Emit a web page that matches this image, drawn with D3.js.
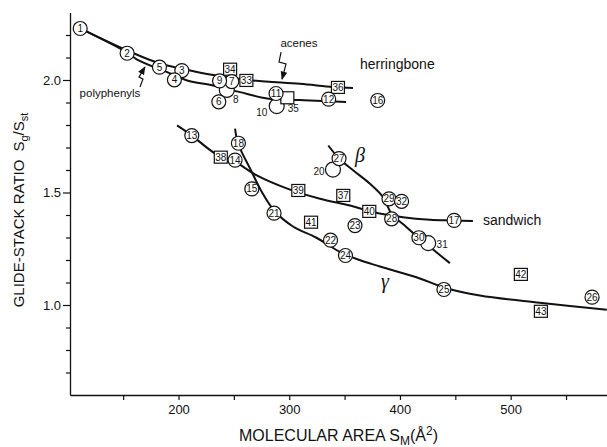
<!DOCTYPE html>
<html>
<head>
<meta charset="utf-8">
<script src="https://cdn.jsdelivr.net/npm/d3@7"></script>
<style>
  body { margin: 0; background: #fff; }
  text { font-family: "Liberation Sans", Arial, Helvetica, sans-serif; fill: #111; }
</style>
</head>
<body>
<div id="chart"></div>
<script>
// numbered circles (labelled inside)
var circleIds = ["1", "2", "3", "4", "5", "6", "7", "9", "11", "12", "13", "14", "15", "16", "17", "18",
                 "21", "22", "23", "24", "25", "26", "27", "28", "29", "30", "32"];
var circleX = [111.2, 153.6, 203.0, 196.3, 182.8, 236.4, 248.1, 237.1, 288.1, 335.6, 212.0, 251.1, 266.2, 379.9, 448.9, 254.1,
               286.3, 337.3, 359.4, 350.8, 439.7, 573.5, 345.0, 392.5, 390.1, 417.1, 401.5];
var circleY = [2.229, 2.119, 2.042, 2.001, 2.057, 1.903, 1.993, 1.996, 1.940, 1.915, 1.753, 1.644, 1.516, 1.909, 1.376, 1.719,
               1.408, 1.288, 1.353, 1.220, 1.069, 1.035, 1.651, 1.383, 1.472, 1.299, 1.461];

// circles whose number sits outside
var openIds = ["8", "10", "20", "31"];
var openX = [243.6, 288.7, 339.5, 425.5];
var openY = [1.956, 1.884, 1.602, 1.275];

// squares
var squareIds = ["33", "34", "35", "36", "37", "38", "39", "40", "41", "42", "43"];
var squareX = [261.3, 246.6, 298.3, 344.0, 348.8, 238.2, 308.2, 372.3, 319.7, 509.2, 527.3];
var squareY = [1.998, 2.048, 1.921, 1.967, 1.487, 1.657, 1.509, 1.416, 1.368, 1.136, 0.972];

// curves
var acenesX = [111.2, 153.6, 183.4, 204.2, 228.5, 267.3, 309.7, 339.5, 357.6];
var acenesY = [2.229, 2.131, 2.073, 2.049, 2.024, 1.998, 1.983, 1.969, 1.964];
var polyX = [111.2, 153.6, 162.6, 189.7, 207.8, 231.2, 255.6, 280.0, 309.7, 335.0, 351.3];
var polyY = [2.229, 2.122, 2.091, 2.035, 1.998, 1.976, 1.946, 1.918, 1.911, 1.906, 1.902];
var sandwichX = [198.7, 212.0, 233.2, 251.1, 270.7, 298.9, 327.8, 354.9, 375.6, 402.7, 427.1, 448.7, 465.9];
var sandwichY = [1.798, 1.753, 1.673, 1.636, 1.576, 1.516, 1.472, 1.442, 1.413, 1.390, 1.379, 1.376, 1.373];
var betaX = [335.3, 345.2, 357.9, 372.9, 384.9, 392.5, 406.0, 418.1, 445.1];
var betaY = [1.709, 1.650, 1.598, 1.539, 1.479, 1.405, 1.346, 1.294, 1.186];
var gammaX = [251.1, 253.8, 265.5, 275.5, 286.3, 303.4, 324.2, 345.8, 362.1, 381.9, 418.0, 439.7, 472.2, 526.3, 586.8];
var gammaY = [1.784, 1.718, 1.598, 1.500, 1.420, 1.349, 1.300, 1.236, 1.202, 1.171, 1.118, 1.078, 1.042, 1.010, 0.979];

// annotation arrows (data units)
var acenesArrowX = [292.6, 290.8, 297.1, 293.5];
var acenesArrowY = [2.124, 2.080, 2.071, 2.004];
var polyArrowX = [165.2, 167.9, 164.3, 169.7];
var polyArrowY = [1.969, 2.004, 2.013, 2.058];

var xTickLabels = [200, 300, 400, 500];
var yTickLabels = [1.0, 1.5, 2.0];

var width = 607, height = 447;
var margin = { top: 12.5, right: 0, bottom: 52, left: 70 };

var svg = d3.select("#chart").append("svg")
    .attr("width", width)
    .attr("height", height);

var x = d3.scaleLinear().domain([102, 587]).range([margin.left, width - margin.right]);
var y = d3.scaleLinear().domain([0.6, 2.3]).range([height - margin.bottom, margin.top]);

svg.append("defs").append("marker")
    .attr("id", "head")
    .attr("viewBox", "0 0 10 10")
    .attr("refX", 9).attr("refY", 5)
    .attr("markerWidth", 7).attr("markerHeight", 7)
    .attr("orient", "auto")
    .append("path")
    .attr("d", "M0,1 L10,5 L0,9 Z")
    .attr("fill", "#111");

// axes
var xAxis = svg.append("g")
    .attr("transform", "translate(0," + y.range()[0] + ")")
    .call(d3.axisBottom(x)
        .tickValues(d3.range(150, 551, 50))
        .tickFormat(function (d) { return xTickLabels.indexOf(d) >= 0 ? d : ""; })
        .tickSize(5).tickSizeOuter(0).tickPadding(5));

var yAxis = svg.append("g")
    .attr("transform", "translate(" + margin.left + ",0)")
    .call(d3.axisLeft(y)
        .tickValues(d3.range(7, 23).map(function (d) { return d / 10; }))
        .tickFormat(function (d) {
            return yTickLabels.some(function (v) { return Math.abs(v - d) < 1e-6; }) ? d3.format(".1f")(d) : "";
        })
        .tickSize(4).tickSizeOuter(0).tickPadding(5));

yAxis.selectAll(".tick line")
    .attr("x2", function (d) { return Math.abs(d * 2 - Math.round(d * 2)) < 1e-6 ? -7 : -4; });

svg.selectAll(".domain").attr("stroke", "#111").attr("stroke-width", 1.3);
svg.selectAll(".tick line").attr("stroke", "#111").attr("stroke-width", 1.2);
svg.selectAll(".tick text").style("font-size", "13px").attr("fill", "#111");

// axis titles
var xt = svg.append("text")
    .attr("x", (x.range()[0] + x.range()[1]) / 2)
    .attr("y", 441)
    .attr("text-anchor", "middle")
    .style("font-size", "16px");
xt.append("tspan").text("MOLECULAR AREA S");
xt.append("tspan").attr("dy", 4).style("font-size", "12px").text("M");
xt.append("tspan").attr("dy", -4).text("(Å");
xt.append("tspan").attr("dy", -6).style("font-size", "12px").text("2");
xt.append("tspan").attr("dy", 6).text(")");

var yt = svg.append("text")
    .attr("transform", "rotate(-90)")
    .attr("x", -210)
    .attr("y", 24)
    .attr("text-anchor", "middle")
    .style("font-size", "15px");
yt.append("tspan").text("GLIDE-STACK RATIO");
yt.append("tspan").attr("dx", 8).text("S");
yt.append("tspan").attr("dy", 4).style("font-size", "11px").text("g");
yt.append("tspan").attr("dy", -4).text("/S");
yt.append("tspan").attr("dy", 4).style("font-size", "11px").text("st");

// curves
var line = d3.line()
    .x(function (d) { return x(d[0]); })
    .y(function (d) { return y(d[1]); })
    .curve(d3.curveCatmullRom.alpha(0.5));

var curves = [[acenesX, acenesY], [polyX, polyY], [sandwichX, sandwichY], [betaX, betaY], [gammaX, gammaY]];
svg.append("g").selectAll("path")
    .data(curves)
    .enter()
    .append("path")
    .attr("d", function (c) { return line(d3.zip(c[0], c[1])); })
    .attr("fill", "none")
    .attr("stroke", "#111")
    .attr("stroke-width", 2);

// lightning arrows
var zig = d3.line()
    .x(function (d) { return x(d[0]); })
    .y(function (d) { return y(d[1]); });
[[acenesArrowX, acenesArrowY], [polyArrowX, polyArrowY]].forEach(function (a) {
    svg.append("path")
        .attr("d", zig(d3.zip(a[0], a[1])))
        .attr("fill", "none")
        .attr("stroke", "#111")
        .attr("stroke-width", 1.2)
        .attr("marker-end", "url(#head)");
});

var r = 7;

// open circles with outside numbers
var openOffset = { "8": [9, 10], "10": [-15, 6], "20": [-14, 2], "31": [14, 1] };
var opens = d3.zip(openIds, openX, openY);
svg.append("g").selectAll("circle")
    .data(opens)
    .enter()
    .append("circle")
    .attr("cx", function (d) { return x(d[1]); })
    .attr("cy", function (d) { return y(d[2]); })
    .attr("r", r + 0.5)
    .attr("fill", "#fff")
    .attr("stroke", "#111")
    .attr("stroke-width", 1.2);
svg.append("g").selectAll("text")
    .data(opens)
    .enter()
    .append("text")
    .attr("x", function (d) { return x(d[1]) + openOffset[d[0]][0]; })
    .attr("y", function (d) { return y(d[2]) + openOffset[d[0]][1]; })
    .attr("text-anchor", "middle")
    .attr("dy", "0.35em")
    .style("font-size", "10px")
    .text(function (d) { return d[0]; });

// squares
var squares = d3.zip(squareIds, squareX, squareY);
var sq = svg.append("g").selectAll("g")
    .data(squares)
    .enter()
    .append("g")
    .attr("transform", function (d) { return "translate(" + x(d[1]) + "," + y(d[2]) + ")"; });
sq.append("rect")
    .attr("x", -6.5).attr("y", -6)
    .attr("width", 13).attr("height", 12)
    .attr("fill", "#fff")
    .attr("stroke", "#111")
    .attr("stroke-width", 1.2);
sq.append("text")
    .attr("text-anchor", "middle")
    .attr("dy", "0.35em")
    .style("font-size", "10px")
    .text(function (d) { return d[0] === "35" ? "" : d[0]; });
sq.filter(function (d) { return d[0] === "35"; })
    .append("text")
    .attr("x", 6).attr("y", 14)
    .attr("text-anchor", "middle")
    .style("font-size", "10px")
    .text("35");

// labelled circles
var circles = d3.zip(circleIds, circleX, circleY);
var cg = svg.append("g").selectAll("g")
    .data(circles)
    .enter()
    .append("g")
    .attr("transform", function (d) { return "translate(" + x(d[1]) + "," + y(d[2]) + ")"; });
cg.append("circle")
    .attr("r", r)
    .attr("fill", "#fff")
    .attr("stroke", "#111")
    .attr("stroke-width", 1.2);
cg.append("text")
    .attr("text-anchor", "middle")
    .attr("dy", "0.35em")
    .style("font-size", "10px")
    .text(function (d) { return d[0]; });

// annotations
function note(txt, vx, vy, size, anchor, style, fam) {
    svg.append("text")
        .attr("x", x(vx))
        .attr("y", y(vy))
        .attr("dy", "0.35em")
        .attr("text-anchor", anchor)
        .style("font-size", size)
        .style("font-style", style || "normal")
        .style("font-family", fam || null)
        .text(txt);
}
note("acenes", 308.8, 2.164, "11.5px", "middle");
note("polyphenyls", 138.1, 1.944, "11.5px", "middle");
note("herringbone", 363.9, 2.071, "14px", "start");
note("sandwich", 475.0, 1.378, "14px", "start");
note("β", 363.9, 1.667, "20px", "middle", "italic", "Liberation Serif, serif");
note("γ", 386.5, 1.107, "20px", "middle", "italic", "Liberation Serif, serif");
</script>
</body>
</html>
